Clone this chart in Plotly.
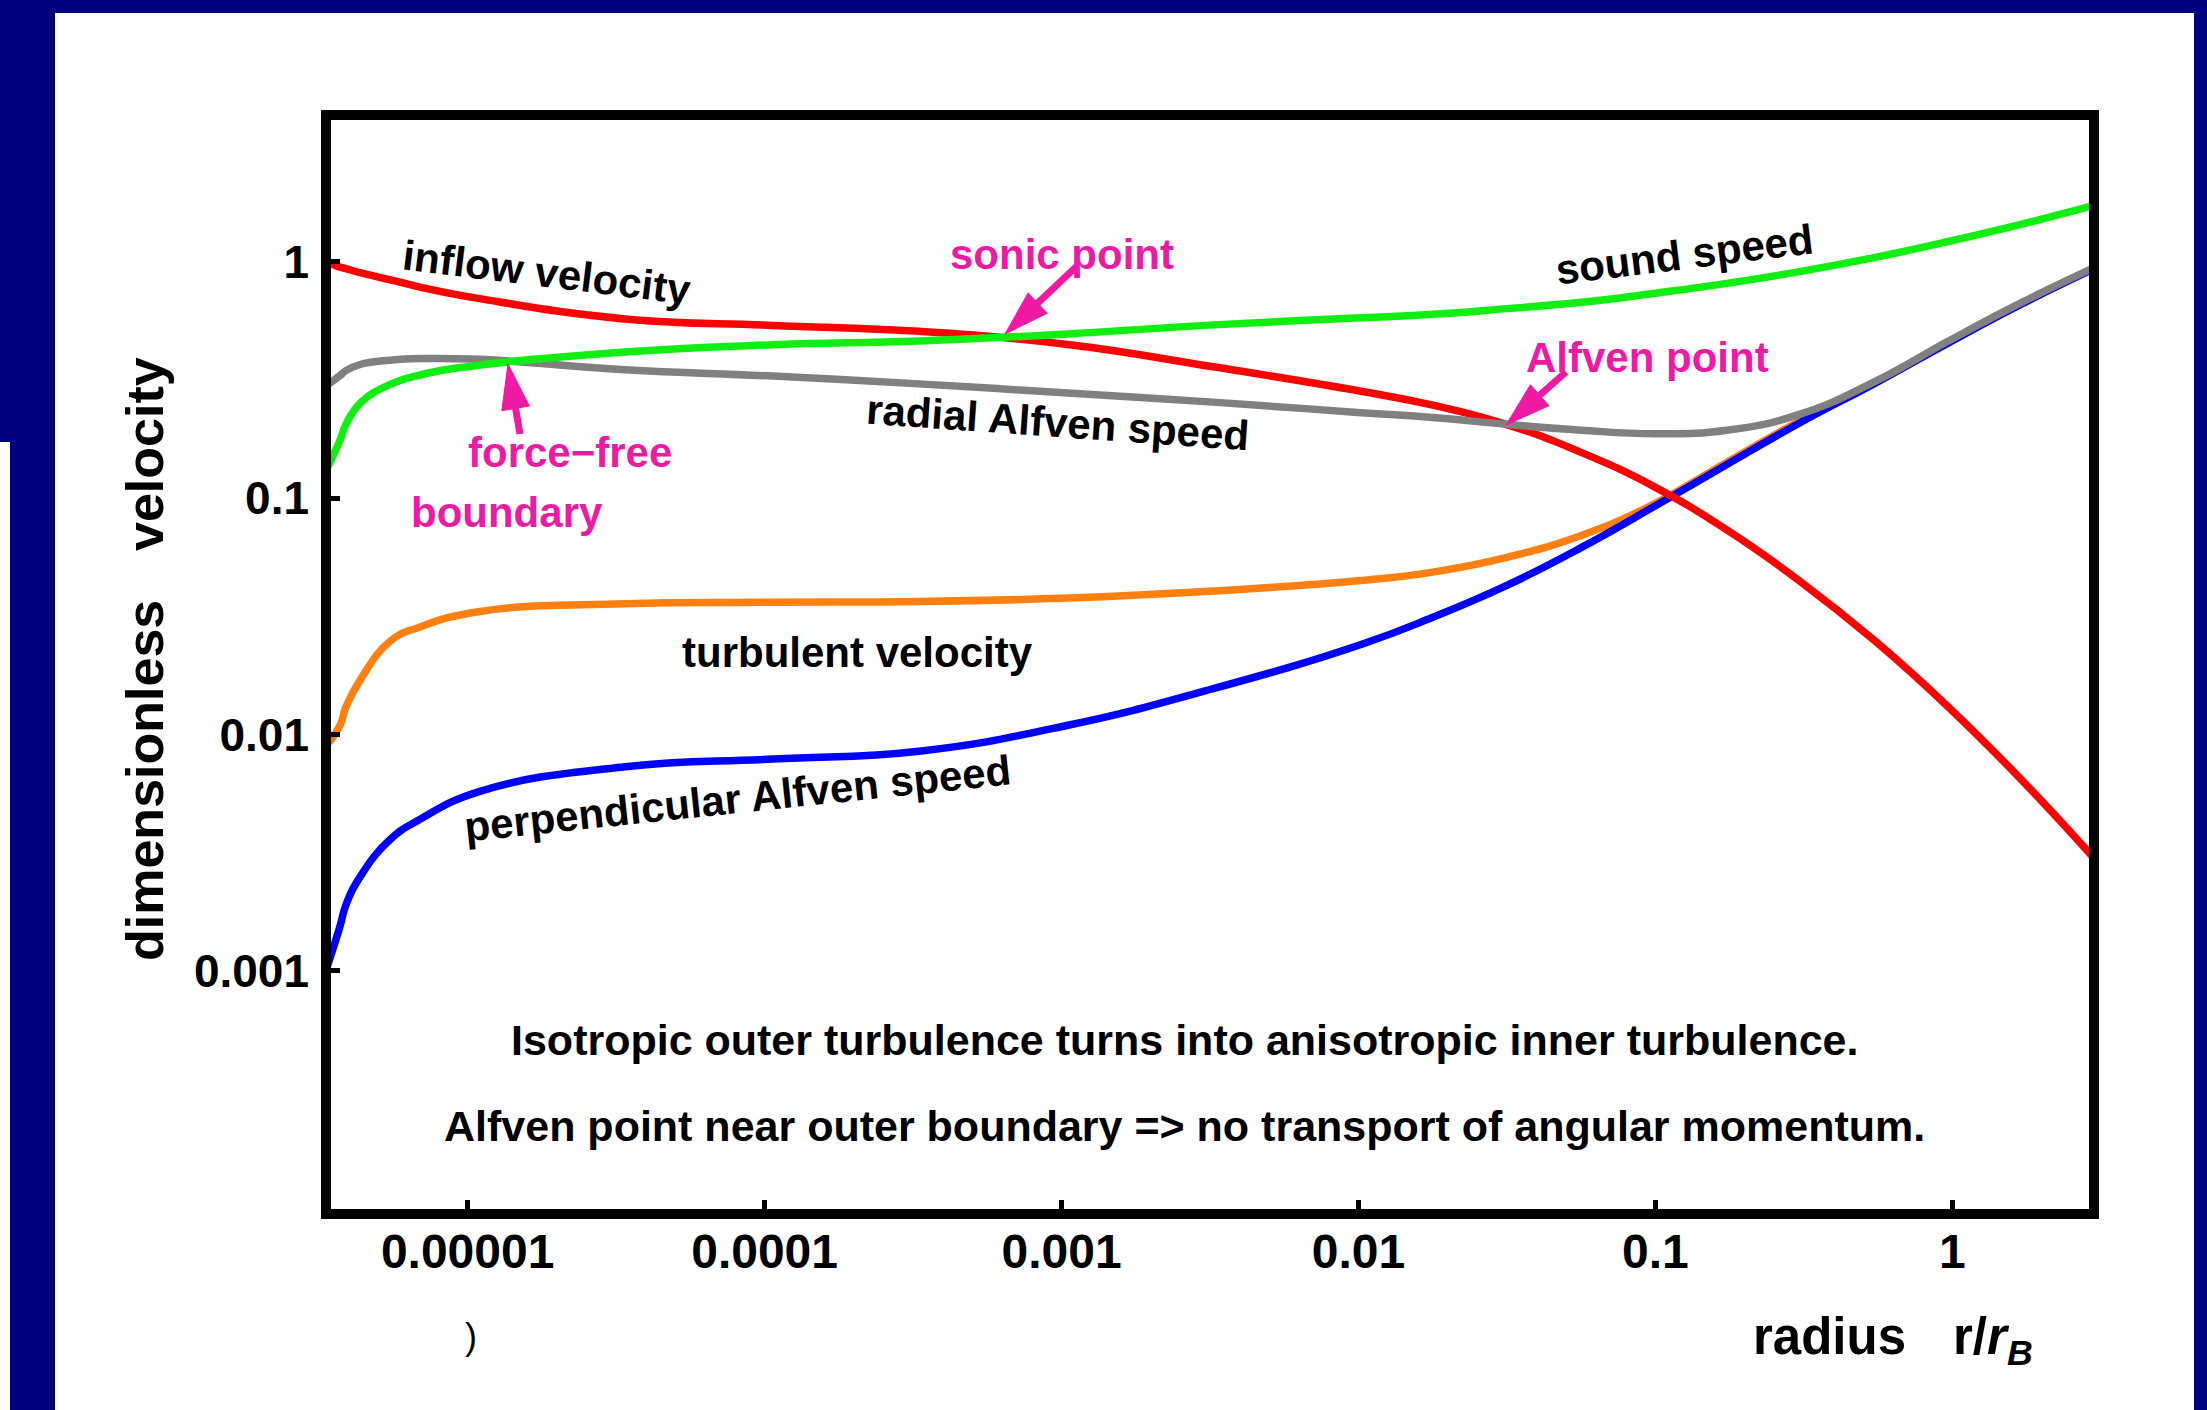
import math
import plotly.graph_objects as go

# ---------------- data ----------------
radius = [3.33e-6, 3.72e-6, 3.89e-6, 4.37e-6, 5.50e-6, 6.92e-6, 1.10e-5, 3.39e-5,
          1.07e-4, 3.31e-4, 1.05e-3, 3.24e-3, 1.02e-2, 1.78e-2, 3.16e-2, 5.62e-2,
          0.100, 0.174, 0.309, 0.550, 0.977, 1.70, 3.00]

inflow_velocity = [1.000, 0.947, 0.934, 0.896, 0.837, 0.780, 0.697, 0.572,
                   0.537, 0.507, 0.446, 0.359, 0.283, 0.247, 0.2045, 0.156,
                   0.111, 0.0733, 0.0442, 0.0248, 0.01295, 0.00648, 0.00300]

sound_speed = [0.130, 0.176, 0.2045, 0.2535, 0.303, 0.3315, 0.365, 0.415,
               0.445, 0.4616, 0.4945, 0.540, 0.5785, 0.5986, 0.6325, 0.6725,
               0.735, 0.809, 0.909, 1.042, 1.219, 1.437, 1.729]

radial_alfven = [0.298, 0.330, 0.346, 0.368, 0.383, 0.389, 0.386, 0.349,
                 0.328, 0.304, 0.278, 0.2545, 0.2297, 0.219, 0.205, 0.1936,
                 0.1871, 0.1936, 0.2269, 0.3116, 0.4636, 0.6688, 0.9429]

perp_alfven = [0.00100, 0.00155, 0.00190, 0.00253, 0.00361, 0.00438, 0.00575, 0.00731,
               0.00788, 0.00850, 0.01094, 0.01562, 0.02403, 0.0313, 0.0427, 0.0617,
               0.09275, 0.1387, 0.2093, 0.3062, 0.4554, 0.6588, 0.9339]

turbulent_velocity = [0.00892, 0.01094, 0.01307, 0.01719, 0.02487, 0.02851, 0.03315, 0.03574,
                      0.03623, 0.03648, 0.03775, 0.04044, 0.04479, 0.04862, 0.05614, 0.0694,
                      0.09506, 0.1418, 0.2131, 0.3083, 0.4585, 0.6633, 0.9377]

x_tickvals = [1e-5, 1e-4, 1e-3, 1e-2, 1e-1, 1]
x_ticktext = ["0.00001", "0.0001", "0.001", "0.01", "0.1", "1"]
y_tickvals = [0.001, 0.01, 0.1, 1]
y_ticktext = ["0.001", "0.01", "0.1", "1"]

# ---------------- layout geometry ----------------
W, H = 2207, 1410
L, R, T, B = 326, 113, 115, 196
PW, PH = W - L - R, H - T - B

def paper(xpx, ypx):
    return (xpx - L) / PW, (H - B - ypx) / PH

NAVY = "#000080"
PINK = "#EE1AA4"
FONT = "Liberation Sans, Arial, Helvetica, sans-serif"

fig = go.Figure()

series = [
    (turbulent_velocity, "#FF8010"),
    (perp_alfven, "#0000FF"),
    (inflow_velocity, "#FF0000"),
    (radial_alfven, "#808080"),
    (sound_speed, "#11EE11"),
]
for ys, col in series:
    fig.add_trace(go.Scatter(x=radius, y=ys, mode="lines",
                             line=dict(color=col, width=7.5, shape="spline", smoothing=1.3),
                             hoverinfo="skip", showlegend=False))

shapes = []
# white slide panel + left white strip
x0, y0 = paper(55, 1410); x1, y1 = paper(2194, 13)
shapes.append(dict(type="rect", xref="paper", yref="paper", x0=x0, y0=y0, x1=x1, y1=y1,
                   fillcolor="white", line=dict(width=0), layer="below"))
x0, y0 = paper(0, 1410); x1, y1 = paper(10, 442)
shapes.append(dict(type="rect", xref="paper", yref="paper", x0=x0, y0=y0, x1=x1, y1=y1,
                   fillcolor="white", line=dict(width=0), layer="below"))
# frame
shapes.append(dict(type="rect", xref="paper", yref="paper", x0=0, y0=0, x1=1, y1=1,
                   line=dict(color="black", width=10), fillcolor="rgba(0,0,0,0)", layer="above"))

def arrow(tail, head, color, hl=45, hw=28, sw=7):
    tx, ty = tail
    hx, hy = head
    d = math.hypot(hx - tx, hy - ty)
    ux, uy = (hx - tx) / d, (hy - ty) / d
    nx, ny = -uy, ux
    bx, by = hx - ux * hl, hy - uy * hl
    pts = [(hx, hy), (bx + nx * hw / 2, by + ny * hw / 2), (bx - nx * hw / 2, by - ny * hw / 2)]
    path = "M " + " L ".join("%.5f,%.5f" % paper(px_, py_) for px_, py_ in pts) + " Z"
    shapes.append(dict(type="path", path=path, xref="paper", yref="paper",
                       fillcolor=color, line=dict(color=color, width=1), layer="above"))
    a0 = paper(tx, ty)
    a1 = paper(bx + ux * 3, by + uy * 3)
    shapes.append(dict(type="line", xref="paper", yref="paper", x0=a0[0], y0=a0[1],
                       x1=a1[0], y1=a1[1], line=dict(color=color, width=sw), layer="above"))

arrow((1077, 266), (1005, 334), PINK)   # sonic point
arrow((1566, 372), (1506, 425), PINK)   # Alfven point
arrow((520, 434), (508, 364), PINK)     # force-free boundary

annotations = []
def ann(text, xpx, ypx, size=42, color="black", angle=0, bold=True):
    xp, yp = paper(xpx, ypx)
    annotations.append(dict(text=text, x=xp, y=yp, xref="paper", yref="paper",
                            showarrow=False, textangle=angle, xanchor="center", yanchor="middle",
                            font=dict(family=FONT, size=size, color=color,
                                      weight="bold" if bold else "normal")))

ann("inflow velocity", 547, 272, angle=7)
ann("sonic point", 1062, 255, color=PINK)
ann("sound speed", 1684, 255, angle=-7)
ann("Alfven point", 1647, 357, color=PINK)
ann("radial Alfven speed", 1058, 422, angle=4)
ann("force\u2212free", 570, 453, color=PINK)
ann("boundary", 507, 512, color=PINK)
ann("turbulent velocity", 857, 652)
ann("perpendicular Alfven speed", 737, 798, angle=-6)
ann("Isotropic outer turbulence turns into anisotropic inner turbulence.", 1184, 1040, size=43)
ann("Alfven point near outer boundary => no transport of angular momentum.", 1184, 1126, size=43)
ann("dimensionless", 145, 781, size=52, angle=-90)
ann("velocity", 145, 454, size=52, angle=-90)
ann("radius", 1829, 1336, size=51)
ann("r/<i>r<sub>B</sub></i>", 1993, 1340, size=51)
ann(")", 471, 1336, size=36, bold=False)

fig.update_layout(
    width=W, height=H,
    margin=dict(l=L, r=R, t=T, b=B, autoexpand=False),
    paper_bgcolor=NAVY, plot_bgcolor="white",
    showlegend=False,
    shapes=shapes, annotations=annotations,
    xaxis=dict(type="log", range=[-5.477, 0.477], showgrid=False, zeroline=False,
               showline=False, ticks="inside", ticklen=14, tickwidth=5, tickcolor="black",
               tickvals=x_tickvals, ticktext=x_ticktext, ticklabelstandoff=5,
               tickfont=dict(family=FONT, size=48, color="black", weight="bold")),
    yaxis=dict(type="log", range=[-4.028, 0.62], showgrid=False, zeroline=False,
               showline=False, ticks="inside", ticklen=14, tickwidth=5, tickcolor="black",
               tickvals=y_tickvals, ticktext=y_ticktext, ticklabelstandoff=16,
               tickfont=dict(family=FONT, size=46, color="black", weight="bold")),
)

fig.write_html("out.html", config={"displayModeBar": False})
